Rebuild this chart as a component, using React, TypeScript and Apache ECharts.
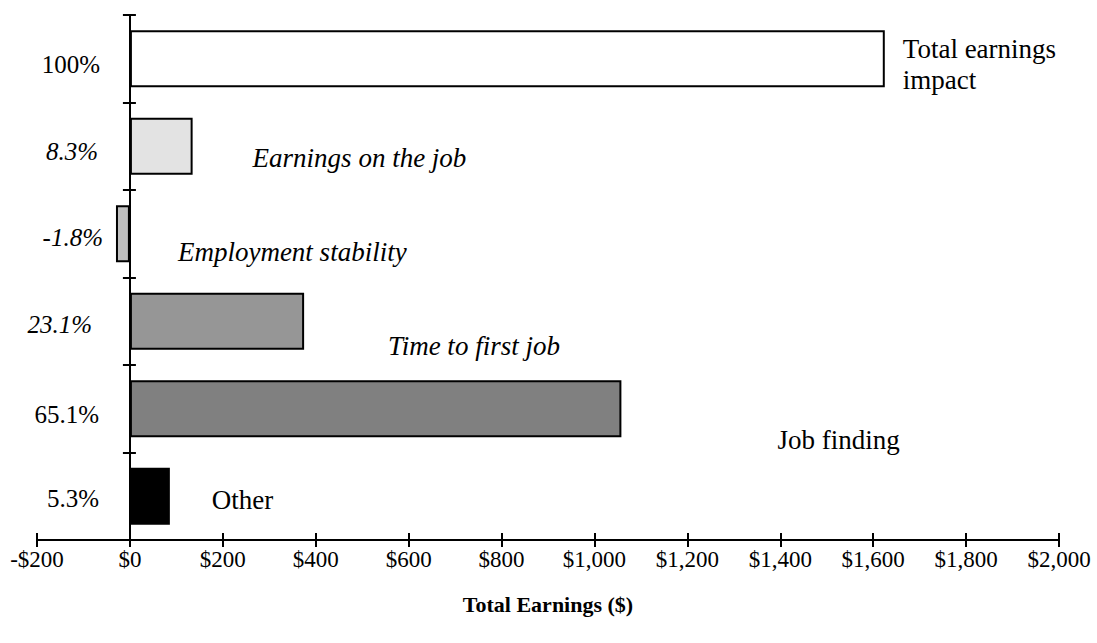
import React, { useEffect, useRef } from "react";
import * as echarts from "echarts";

// Category labels shown on the left (share of total impact)
const shareLabels = ["100%", "8.3%", "-1.8%", "23.1%", "65.1%", "5.3%"];
const shareItalic = [false, true, true, true, false, false];
// Component names written inside the plot
const componentNames = [
  "Total earnings\nimpact",
  "Earnings on the job",
  "Employment stability",
  "Time to first job",
  "Job finding",
  "Other",
];
const nameItalic = [false, true, true, true, false, false];
// Total earnings ($) per component
const earningsValues = [1625, 135, -30, 375, 1058, 86];
// x axis range
const xMin = -200;
const xMax = 2000;
const xStep = 200;

// styles (not data)
const barColors = ["#ffffff", "#e3e3e3", "#c0c0c0", "#969696", "#808080", "#000000"];
const nameOffsets: [number, number][] = [
  [13, 6],
  [55, 12],
  [43, 18],
  [79, 25],
  [151, 31],
  [37, 4],
];
const shareLabelPad: [number, number][] = [
  // [shift down, extra right padding]
  [6, 3],
  [5, 5],
  [4, 0],
  [3, 11],
  [6, 4],
  [2, 4],
];

const FONT = "'Liberation Serif', 'Times New Roman', serif";

export default function App() {
  const ref = useRef<HTMLDivElement>(null);

  useEffect(() => {
    if (!ref.current) return;
    const chart = echarts.init(ref.current, undefined, { renderer: "svg" });

    const rich: Record<string, any> = {};
    shareLabels.forEach((_, i) => {
      const [dy, pr] = shareLabelPad[i];
      rich["s" + i] = {
        fontFamily: FONT,
        fontSize: 25,
        color: "#000",
        fontStyle: shareItalic[i] ? "italic" : "normal",
        padding: [dy * 2, pr, 0, 0],
      };
    });

    const fmtMoney = (v: number) => {
      const abs = Math.abs(v).toLocaleString("en-US");
      return (v < 0 ? "-$" : "$") + abs;
    };

    const axisLineStyle = { color: "#000", width: 2 };

    const option: any = {
      animation: false,
      backgroundColor: "#ffffff",
      grid: {
        left: 37,
        right: 38,
        top: 15,
        bottom: 103,
        containLabel: false,
        outerBoundsMode: "none",
      },
      xAxis: [
        {
          type: "value",
          position: "bottom",
          min: xMin,
          max: xMax,
          interval: xStep,
          splitLine: { show: false },
          axisLine: { show: true, lineStyle: axisLineStyle },
          axisTick: { show: true, inside: false, length: 7, lineStyle: axisLineStyle },
          axisLabel: {
            show: true,
            margin: 8,
            fontFamily: FONT,
            fontSize: 23,
            color: "#000",
            formatter: (v: number) => fmtMoney(v),
          },
          name: "Total Earnings ($)",
          nameLocation: "middle",
          nameGap: 53,
          nameTextStyle: { fontFamily: FONT, fontSize: 22, fontWeight: "bold", color: "#000" },
        },
        {
          type: "value",
          position: "bottom",
          min: xMin,
          max: xMax,
          interval: xStep,
          splitLine: { show: false },
          axisLine: { show: true, lineStyle: axisLineStyle },
          axisTick: { show: true, inside: true, length: 7, lineStyle: axisLineStyle },
          axisLabel: { show: false },
        },
      ],
      yAxis: [
        {
          type: "category",
          inverse: true,
          data: shareLabels,
          position: "left",
          axisLine: { show: true, onZero: true, onZeroAxisIndex: 0, lineStyle: axisLineStyle },
          axisTick: { show: true, inside: false, length: 7, lineStyle: axisLineStyle },
          splitLine: { show: false },
          axisLabel: {
            show: true,
            margin: -66,
            formatter: (v: string, i: number) => `{s${i}|${v}}`,
            rich,
          },
        },
        {
          type: "category",
          inverse: true,
          data: shareLabels,
          position: "left",
          axisLine: { show: true, onZero: true, onZeroAxisIndex: 0, lineStyle: axisLineStyle },
          axisTick: { show: true, inside: true, length: 6, lineStyle: axisLineStyle },
          splitLine: { show: false },
          axisLabel: { show: false },
        },
      ],
      series: [
        {
          type: "bar",
          xAxisIndex: 0,
          yAxisIndex: 0,
          barWidth: "65%",
          data: earningsValues.map((v, i) => ({
            value: v,
            name: componentNames[i],
            itemStyle: { color: barColors[i], borderColor: "#000", borderWidth: 2 },
            label: {
              show: true,
              position: "right",
              offset: nameOffsets[i],
              formatter: componentNames[i],
              fontFamily: FONT,
              fontSize: 27,
              lineHeight: 31,
              color: "#000",
              align: "left",
              fontStyle: nameItalic[i] ? "italic" : "normal",
            },
          })),
        },
      ],
    };

    chart.setOption(option);
    return () => chart.dispose();
  }, []);

  return (
    <div
      ref={ref}
      style={{ position: "fixed", left: 0, top: 0, width: 1097, height: 643, background: "#fff" }}
    />
  );
}
